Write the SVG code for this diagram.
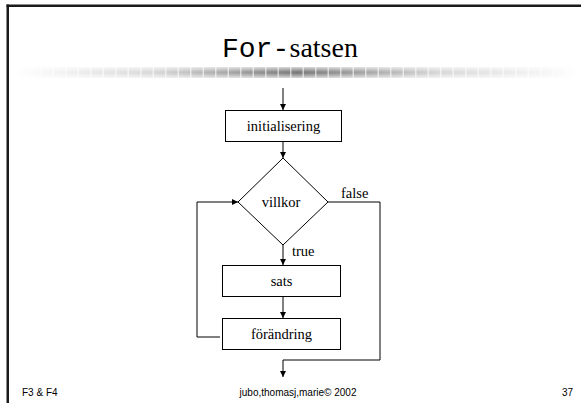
<svg xmlns="http://www.w3.org/2000/svg" width="581" height="403" viewBox="0 0 581 403">
  <defs>
    <linearGradient id="barH" x1="0" y1="0" x2="1" y2="0">
      <stop offset="0" stop-color="#ffffff"/>
      <stop offset="0.25" stop-color="#d8d8d8"/>
      <stop offset="0.5" stop-color="#7a7a7a"/>
      <stop offset="0.75" stop-color="#d8d8d8"/>
      <stop offset="1" stop-color="#ffffff"/>
    </linearGradient>
    <linearGradient id="barV" x1="0" y1="0" x2="0" y2="1">
      <stop offset="0" stop-color="#ffffff" stop-opacity="0.7"/>
      <stop offset="0.45" stop-color="#ffffff" stop-opacity="0"/>
      <stop offset="0.55" stop-color="#ffffff" stop-opacity="0"/>
      <stop offset="1" stop-color="#ffffff" stop-opacity="0.7"/>
    </linearGradient>
    <marker id="arr" viewBox="0 0 10 10" refX="10" refY="5" markerWidth="6" markerHeight="6" markerUnits="userSpaceOnUse" orient="auto">
      <path d="M0,0 L10,5 L0,10 z" fill="#000"/>
    </marker>
  </defs>
  <style>
    .box { fill: #fff; stroke: #000; stroke-width: 1; }
    .lbl { font-family: "Liberation Serif", "Times New Roman", serif; font-size: 14.5px; fill: #000; }
    .edge { fill: none; stroke: #000; stroke-width: 1; }
    .foot { font-family: "Liberation Sans", Arial, sans-serif; font-size: 10px; fill: #000; }
    .tmono { font-family: "Liberation Mono", "Courier New", monospace; font-size: 28px; fill: #000; }
    .tserif { font-family: "Liberation Serif", "Times New Roman", serif; font-size: 28px; fill: #000; }
  </style>
  <rect width="581" height="403" fill="#fff"/>
  <g id="frame">
    <rect x="6.5" y="4.5" width="574.5" height="2.5" fill="#1a1a1a"/>
    <rect x="6.5" y="4.5" width="2.5" height="398.5" fill="#1a1a1a"/>
  </g>
  <g id="title">
    <text class="tmono" x="222" y="57">For-</text>
    <text class="tserif" x="289.5" y="57">satsen</text>
    <rect x="15" y="67" width="565" height="11" fill="url(#barH)"/>
    <rect x="15" y="67" width="565" height="11" fill="url(#barV)"/>
    <line x1="15" y1="72.5" x2="580" y2="72.5" stroke="#fff" stroke-width="11" stroke-dasharray="1.5 11" opacity="0.6"/>
  </g>
  <g id="connectors">
    <line class="edge" x1="283" y1="88" x2="283" y2="110" marker-end="url(#arr)"/>
    <line class="edge" x1="283" y1="142" x2="283" y2="158" marker-end="url(#arr)"/>
    <line class="edge" x1="283" y1="245" x2="283" y2="265" marker-end="url(#arr)"/>
    <line class="edge" x1="283" y1="296" x2="283" y2="318" marker-end="url(#arr)"/>
    <polyline class="edge" points="220,337 197,337 197,202 238,202" marker-end="url(#arr)"/>
    <polyline class="edge" points="328,202 380,202 380,360 283,360 283,377" marker-end="url(#arr)"/>
    <text class="lbl" x="341" y="198">false</text>
    <text class="lbl" x="292" y="256">true</text>
  </g>
  <g id="initialisering">
    <rect class="box" x="225.5" y="110.5" width="116" height="31"/>
    <text class="lbl" x="283.5" y="131" text-anchor="middle">initialisering</text>
  </g>
  <g id="villkor">
    <polygon class="box" points="283,158 328,202 283,245 238,202"/>
    <text class="lbl" x="281" y="207" text-anchor="middle">villkor</text>
  </g>
  <g id="sats">
    <rect class="box" x="222.5" y="265.5" width="118" height="31"/>
    <text class="lbl" x="281.5" y="286" text-anchor="middle">sats</text>
  </g>
  <g id="forandring">
    <rect class="box" x="222.5" y="318.5" width="118" height="31"/>
    <text class="lbl" x="281.5" y="339" text-anchor="middle">förändring</text>
  </g>
  <g id="footer">
    <text class="foot" x="22" y="396">F3 &amp; F4</text>
    <text class="foot" x="298" y="396" text-anchor="middle">jubo,thomasj,marie© 2002</text>
    <text class="foot" x="573" y="396" text-anchor="end">37</text>
  </g>
</svg>
